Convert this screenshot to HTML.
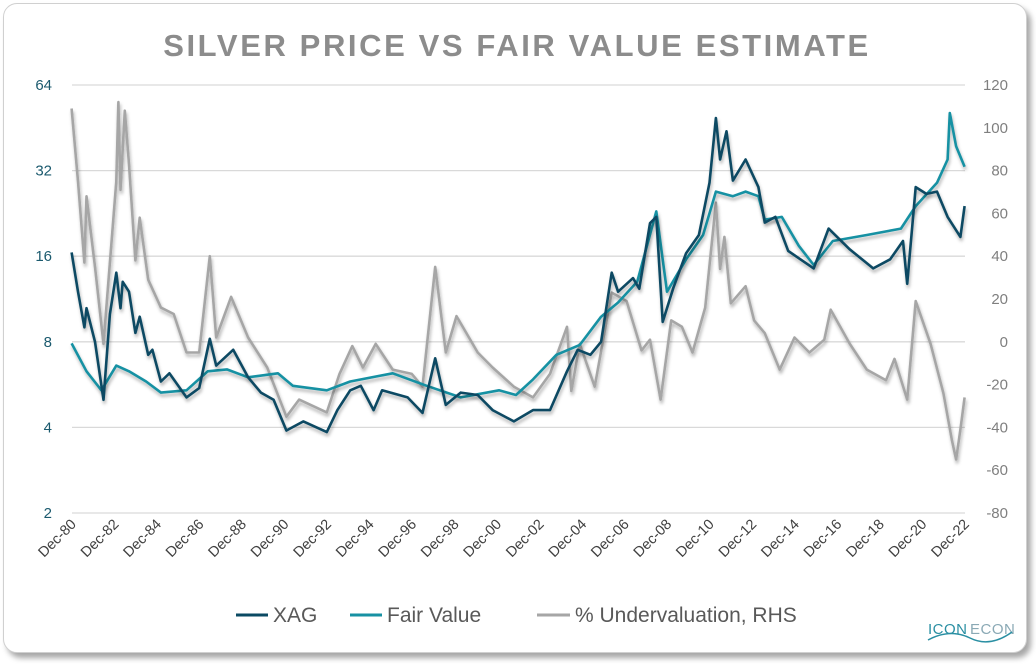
<!DOCTYPE html>
<html><head><meta charset="utf-8"><style>
body{margin:0;width:1036px;height:664px;background:#fff;font-family:"Liberation Sans",sans-serif;overflow:hidden}
#card{position:absolute;left:3px;top:3px;width:1022px;height:648px;border:1px solid #d0d0d0;border-radius:14px;box-shadow:4px 5px 6px rgba(0,0,0,0.35);background:#fff}
</style></head><body>
<div id="card"></div>
<svg id="chart" width="1036" height="664" style="position:absolute;left:0;top:0">
<defs><filter id="sh" x="-5%" y="-5%" width="110%" height="120%"><feDropShadow dx="1" dy="3" stdDeviation="1.5" flood-color="#000" flood-opacity="0.3"/></filter></defs>
<text x="517" y="56" text-anchor="middle" font-size="31" font-weight="bold" fill="#8c8c8c" letter-spacing="2.6">SILVER PRICE VS FAIR VALUE ESTIMATE</text>
<g id="grid"></g><g id="axes"></g><g id="series"></g>
<g font-size="21" fill="#595959">
<line x1="236" y1="615" x2="268" y2="615" stroke="#0b4a63" stroke-width="3"/>
<text x="273" y="622">XAG</text>
<line x1="350" y1="615" x2="382" y2="615" stroke="#1791a3" stroke-width="3"/>
<text x="387" y="622">Fair Value</text>
<line x1="537" y1="615" x2="570" y2="615" stroke="#a6a6a6" stroke-width="3"/>
<text x="575" y="622">% Undervaluation, RHS</text>
</g>
<g>
<text x="928" y="634" font-size="15" fill="#2a8fa3" letter-spacing="0.5">ICON</text><text x="970" y="634" font-size="15" fill="#8aa9b5" letter-spacing="0.5">ECON</text>
<path d="M928 640 Q950 628 970 638 T1012 632" stroke="#2a8fa3" stroke-width="1.5" fill="none"/>
</g>
</svg>
<script>
const dates=[1980.9,1981.2,1981.5,1981.6,1982.0,1982.4,1982.7,1983.0,1983.2,1983.3,1983.6,1983.9,1984.1,1984.5,1984.7,1985.1,1985.5,1986.3,1986.9,1987.4,1987.7,1988.5,1989.2,1989.8,1990.4,1991.0,1991.8,1992.9,1993.4,1994.0,1994.5,1995.1,1995.5,1996.7,1997.4,1998.0,1998.5,1999.2,2000.0,2000.7,2001.7,2002.6,2003.4,2004.2,2004.7,2005.3,2005.8,2006.3,2006.6,2007.3,2007.6,2008.1,2008.4,2008.7,2009.2,2009.8,2010.4,2010.9,2011.2,2011.4,2011.7,2012.0,2012.6,2013.2,2013.5,2014.0,2014.6,2015.8,2016.5,2017.5,2018.6,2019.4,2020.0,2020.2,2020.6,2021.1,2021.6,2022.1,2022.7,2022.9];
const xag=[16.5,12,9,10.5,8,5.0,10,14,10.5,13,12,8.6,9.8,7.2,7.5,5.8,6.2,5.1,5.5,8.2,6.6,7.5,6.0,5.3,5.0,3.9,4.2,3.85,4.6,5.4,5.6,4.6,5.4,5.1,4.5,7.0,4.8,5.3,5.2,4.6,4.2,4.6,4.6,6.3,7.5,7.2,8,14,12,13.4,12.3,20.9,22,9.4,12.4,16.4,19,29,49,35,44,29.5,35,28,21,22,16.7,14.5,20,16.9,14.5,15.6,18.1,12.8,28,26.5,27,22,18.7,24];
const fvDates=[1980.9,1981.6,1982.3,1983.0,1983.6,1984.4,1985.1,1986.3,1987.3,1988.2,1989.2,1990.6,1991.3,1992.9,1994.0,1996.0,1997.6,1999.2,2001.0,2001.8,2002.6,2003.7,2004.8,2005.8,2006.6,2007.5,2008.4,2008.9,2009.8,2010.6,2011.2,2012.0,2012.6,2013.2,2013.5,2014.3,2015.1,2015.8,2016.7,2018.3,2019.9,2020.6,2021.6,2022.1,2022.2,2022.5,2022.9];
const fairValue=[7.9,6.3,5.4,6.6,6.3,5.8,5.3,5.4,6.3,6.4,6.0,6.2,5.6,5.4,5.8,6.2,5.6,5.1,5.4,5.2,5.9,7.2,7.8,9.8,11,13,23,12,15.6,19,27,26,27,26,21.5,22,17.4,14.9,18.1,19,20,24,29,35,51,39,33];
const uvDates=[1980.9,1981.2,1981.5,1981.6,1982.0,1982.4,1983.0,1983.1,1983.2,1983.4,1983.6,1983.9,1984.1,1984.5,1985.1,1985.7,1986.3,1986.9,1987.4,1987.7,1988.4,1989.2,1990.1,1991.0,1991.6,1992.9,1993.5,1994.1,1994.6,1995.2,1996.0,1996.9,1997.4,1998.0,1998.5,1999.0,2000.0,2000.7,2001.7,2002.6,2003.4,2004.2,2004.4,2004.8,2005.5,2006.3,2007.0,2007.7,2008.1,2008.6,2009.1,2009.6,2010.1,2010.7,2011.2,2011.4,2011.6,2011.9,2012.6,2013.0,2013.5,2014.2,2014.9,2015.6,2016.3,2016.6,2017.5,2018.3,2019.2,2019.6,2020.2,2020.6,2021.3,2021.9,2022.3,2022.5,2022.7,2022.9];
const undervaluation=[109,75,37,68,35,-1,75,112,71,108,83,38,58,29,16,13,-5,-5,40,2,21,2,-12,-35,-27,-33,-15,-2,-12,-1,-13,-15,-21,35,-5,12,-5,-12,-21,-26,-15,7,-23,-1,-21,23,19,-4,1,-27,10,7,-5,16,65,34,49,18,26,10,4,-13,2,-5,1,15,-1,-13,-18,-8,-27,19,-1,-24,-46,-55,-41,-26];
const leftTicks=[2,4,8,16,32,64];
const rightTicks=[-80,-60,-40,-20,0,20,40,60,80,100,120];
const xTickYears=[1980,1982,1984,1986,1988,1990,1992,1994,1996,1998,2000,2002,2004,2006,2008,2010,2012,2014,2016,2018,2020,2022];

const X0=72,X1=965,T0=1980.917,T1=2022.917,YT=85,YB=513;
const xs=t=>X0+(t-T0)/(T1-T0)*(X1-X0);
const yL=v=>YB-(Math.log2(v)-1)/5*(YB-YT);
const yR=v=>YB-(v+80)/200*(YB-YT);
const NS="http://www.w3.org/2000/svg";
function mk(tag,attrs,parent){const e=document.createElementNS(NS,tag);for(const k in attrs)e.setAttribute(k,attrs[k]);document.getElementById(parent).appendChild(e);return e;}
leftTicks.forEach(v=>{
  if(v>2){const g=mk('line',{x1:X0,x2:X1,y1:yL(v),y2:yL(v),stroke:'#d9d9d9','stroke-width':1.3},'grid');
  
  }
  const t=mk('text',{x:52,y:yL(v)+5,'text-anchor':'end','font-size':15,fill:'#1b5a6e'},'axes');t.textContent=v;
  
  
});
rightTicks.forEach(v=>{
  const t=mk('text',{x:1008,y:yR(v)+5,'text-anchor':'end','font-size':15,fill:'#7f7f7f'},'axes');t.textContent=v;
  
  
});
const ax=mk('line',{x1:X0,x2:X1,y1:YB,y2:YB,stroke:'#d9d9d9','stroke-width':1.3},'axes');


xTickYears.forEach(yr=>{
  const x=xs(yr+0.917);
  const t=mk('text',{x:0,y:0,'text-anchor':'end','font-size':14.5,fill:'#404040',transform:`translate(${x+5},${YB+12}) rotate(-45)`},'axes');
  t.textContent='Dec-'+String(yr).slice(2);
  
  
});
function line(d,v,yf,col,name){
  const p=d.map((t,i)=>(i?'L':'M')+xs(t).toFixed(1)+' '+yf(v[i]).toFixed(1)).join('');
  const e=mk('path',{d:p,stroke:col,'stroke-width':2.6,fill:'none','stroke-linejoin':'round',filter:'url(#sh)'},'series');
  
  
}
line(uvDates,undervaluation,yR,'#a6a6a6','undervaluation-line');
line(fvDates,fairValue,yL,'#1791a3','fair-value-line');
line(dates,xag,yL,'#0b4a63','xag-line');
</script>
</body></html>
